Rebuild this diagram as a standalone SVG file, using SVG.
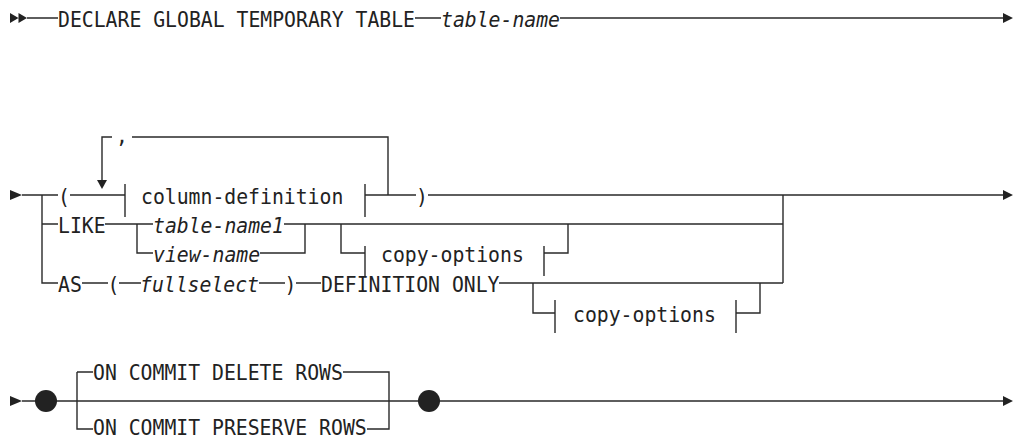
<svg xmlns="http://www.w3.org/2000/svg" width="1015" height="438" viewBox="0 0 1015 438">
<style>
.t{font-family:"DejaVu Sans Mono","Liberation Mono",monospace;font-size:21px;fill:#222}
.i{font-style:italic}
.l{fill:none;stroke:#2a2a2a;stroke-width:1.4}
.a{fill:#222}
</style>
<rect width="1015" height="438" fill="#fff"/>
<g id="connectors">
<path class="l" d="M27 18H58M415 18H441M560 18H1004"/>
<path class="a" d="M10 13L18.5 18L10 23ZM18.5 13L27 18L18.5 23ZM1003 13L1013 18L1003 23Z"/>
<path class="l" d="M22 195H58M70 195H125M42 195V283H58M42 224H58"/>
<path class="a" d="M10 190L22 195L10 200ZM1003 190L1013 195L1003 200Z"/>
<path class="l" d="M102 181V137H112M132 137H388V195"/>
<path class="a" d="M97 180L107 180L102 189Z"/>
<path class="l" d="M125 184V217M365 184V217M365 195H416M428 195H1004"/>
<path class="l" d="M105 224H153M137 224V253H153M284 224H783M260 253H305V224M341 224V253H365M365 246V276M544 246V276M544 253H568V224"/>
<path class="l" d="M82 283H108M119 283H141M259 283H285M296 283H321M499 283H783M783 195V283M533 283V313H555M555 300V333M736 300V333M736 313H760V283"/>
<path class="l" d="M22 401H1004M77 372V429H93M77 372H93M343 372H389V429H367"/>
<path class="a" d="M10 396L22 401L10 406ZM1003 396L1013 401L1003 406Z"/>
<circle class="a" cx="46" cy="401" r="11"/>
<circle class="a" cx="429" cy="401" r="11"/>
</g>
<g id="n-declare"><text class="t" x="58" y="27" textLength="357" lengthAdjust="spacingAndGlyphs">DECLARE GLOBAL TEMPORARY TABLE</text></g>
<g id="n-tablename"><text class="t i" x="441" y="27" textLength="119" lengthAdjust="spacingAndGlyphs">table-name</text></g>
<g id="n-lparen1"><text class="t" x="58" y="204" textLength="11.9" lengthAdjust="spacingAndGlyphs">(</text></g>
<g id="n-comma"><text class="t" x="116" y="143" textLength="11.9" lengthAdjust="spacingAndGlyphs">,</text></g>
<g id="n-coldef"><text class="t" x="141" y="204" textLength="202.3" lengthAdjust="spacingAndGlyphs">column-definition</text></g>
<g id="n-rparen1"><text class="t" x="416" y="204" textLength="11.9" lengthAdjust="spacingAndGlyphs">)</text></g>
<g id="n-like"><text class="t" x="58" y="233" textLength="47.6" lengthAdjust="spacingAndGlyphs">LIKE</text></g>
<g id="n-tablename1"><text class="t i" x="153" y="233" textLength="130.9" lengthAdjust="spacingAndGlyphs">table-name1</text></g>
<g id="n-viewname"><text class="t i" x="153" y="262" textLength="107.1" lengthAdjust="spacingAndGlyphs">view-name</text></g>
<g id="n-copyopt1"><text class="t" x="381" y="262" textLength="142.8" lengthAdjust="spacingAndGlyphs">copy-options</text></g>
<g id="n-as"><text class="t" x="58" y="292" textLength="23.8" lengthAdjust="spacingAndGlyphs">AS</text></g>
<g id="n-lparen2"><text class="t" x="107.5" y="292" textLength="11.9" lengthAdjust="spacingAndGlyphs">(</text></g>
<g id="n-fullselect"><text class="t i" x="140" y="292" textLength="119" lengthAdjust="spacingAndGlyphs">fullselect</text></g>
<g id="n-rparen2"><text class="t" x="284.5" y="292" textLength="11.9" lengthAdjust="spacingAndGlyphs">)</text></g>
<g id="n-defonly"><text class="t" x="321" y="292" textLength="178.5" lengthAdjust="spacingAndGlyphs">DEFINITION ONLY</text></g>
<g id="n-copyopt2"><text class="t" x="573" y="322" textLength="142.8" lengthAdjust="spacingAndGlyphs">copy-options</text></g>
<g id="n-delete"><text class="t" x="93" y="380" textLength="249.9" lengthAdjust="spacingAndGlyphs">ON COMMIT DELETE ROWS</text></g>
<g id="n-preserve"><text class="t" x="93" y="435" textLength="273.7" lengthAdjust="spacingAndGlyphs">ON COMMIT PRESERVE ROWS</text></g>
</svg>
